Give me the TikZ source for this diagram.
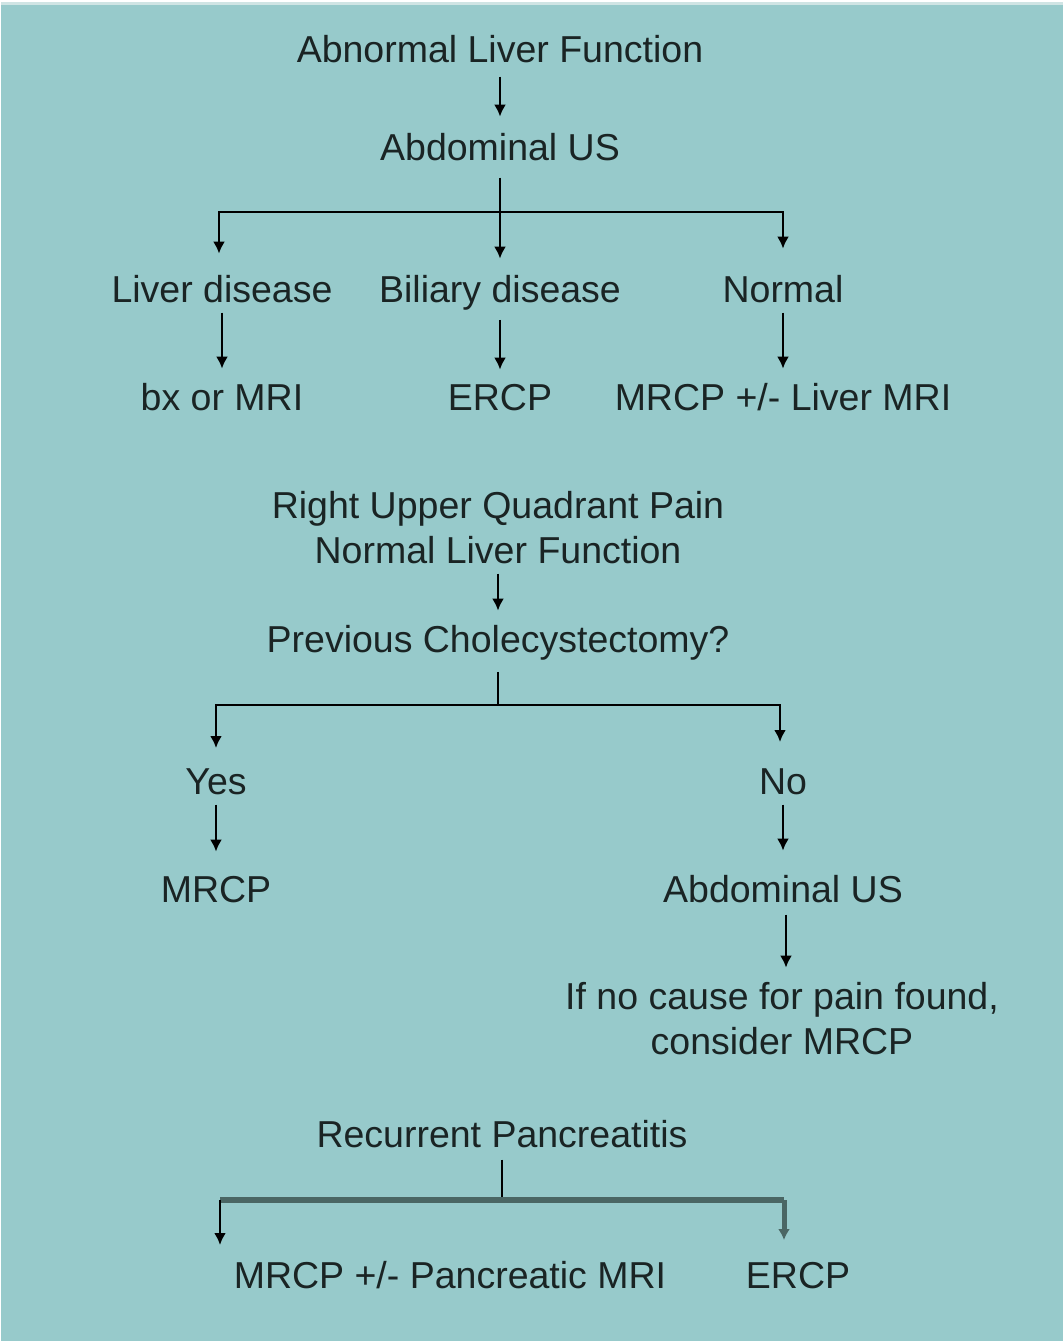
\documentclass[tikz,border=0pt]{standalone}
\usepackage{fontspec}
\setmainfont{Liberation Sans}
\usetikzlibrary{arrows.meta}
\definecolor{bgteal}{HTML}{97CACB}
\definecolor{stripc}{HTML}{CFE4E4}
\definecolor{txtc}{HTML}{1A2424}
\definecolor{barc}{HTML}{4A6664}
\tikzset{
  lbl/.style={anchor=base, inner sep=0pt, text=txtc, font=\fontsize{37.5}{45}\selectfont, align=center},
  conn/.style={line width=2.6pt, draw=black},
  arr/.style={conn, -{Latex[width=12pt,length=12pt]}},
  gbar/.style={line width=6pt, draw=barc},
}
\begin{document}
\begin{tikzpicture}[x=1pt,y=-1pt]
\useasboundingbox (0,0) rectangle (1063,1342);
\fill[white] (0,0) rectangle (1063,1342);
\fill[stripc] (1,2) rectangle (1063,5);
\fill[bgteal] (1,5) rectangle (1063,1341);

% --- Abnormal liver function tree
\node[lbl] (alf) at (500,62) {Abnormal Liver Function};
\node[lbl] (aus1) at (500,160) {Abdominal US};
\node[lbl] (ld) at (222,302) {Liver disease};
\node[lbl] (bd) at (500,302) {Biliary disease};
\node[lbl] (nm) at (783,302) {Normal};
\node[lbl] (bx) at (222,410) {bx or MRI};
\node[lbl] (ercp1) at (500,410) {ERCP};
\node[lbl] (mrcpl) at (783,410) {MRCP +/- Liver MRI};

\coordinate (j1) at (500,212);
\draw[arr, shorten <=14pt, shorten >=16pt] (alf.south) -- (aus1.north);
\draw[arr, shorten <=17pt, shorten >=16pt] (aus1.south) -- (bd.north);
\draw[arr, shorten >=21pt] (j1) -| (ld.north -| 219,0);
\draw[arr, shorten >=26pt] (j1) -| (nm.north);
\draw[arr, shorten <=10pt, shorten >=14pt] (ld.south) -- (ld.south |- bx.north);
\draw[arr, shorten <=10pt, shorten >=14pt] (bd.south) -- (bd.south |- ercp1.north);
\draw[arr, shorten <=10pt, shorten >=14pt] (nm.south) -- (nm.south |- mrcpl.north);

% --- RUQ pain tree
\node[lbl] (ruq) at (498,563) {Right Upper Quadrant Pain\\Normal Liver Function};
\node[lbl] (pc) at (498,652) {Previous Cholecystectomy?};
\node[lbl] (yes) at (216,794) {Yes};
\node[lbl] (no) at (783,794) {No};
\node[lbl] (mrcp1) at (216,902) {MRCP};
\node[lbl] (aus2) at (783,902) {Abdominal US};
\node[lbl] (ifno) at (782,1054) {If no cause for pain found,\\consider MRCP};

\coordinate (j2) at (498,705);
\draw[arr, shorten <=10pt, shorten >=14pt] (ruq.south) -- (ruq.south |- pc.north);
\draw[conn, shorten <=12pt] (pc.south) -- (j2);
\draw[arr, shorten >=20pt] (j2) -| (yes.north);
\draw[arr, shorten >=52pt] (j2) -| (780,794);
\draw[arr, shorten <=10pt, shorten >=24pt] (yes.south) -- (yes.south |- mrcp1.north);
\draw[arr, shorten <=10pt, shorten >=24pt] (no.south) -- (no.south |- aus2.north);
\draw[arr, shorten <=12pt, shorten >=14pt] (aus2.south -| 786,0) -- (786,0 |- ifno.north);

% --- Recurrent pancreatitis
\node[lbl] (rp) at (502,1147) {Recurrent Pancreatitis};
\node[lbl] (mrcpp) at (450,1288) {MRCP +/- Pancreatic MRI};
\node[lbl] (ercp2) at (798,1288) {ERCP};

\coordinate (j3) at (502,1200);
\coordinate (l3) at (220,1200);
\coordinate (r3) at (784,1200);
\draw[conn, shorten <=12pt] (rp.south) -- (j3);
\draw[gbar] (l3) -- (r3);
\draw[arr] (l3) -- (220,1245);
\draw[line width=5pt, draw=barc, -{Latex[width=12pt,length=11pt]}] (r3) -- (784,1240);
\end{tikzpicture}
\end{document}
